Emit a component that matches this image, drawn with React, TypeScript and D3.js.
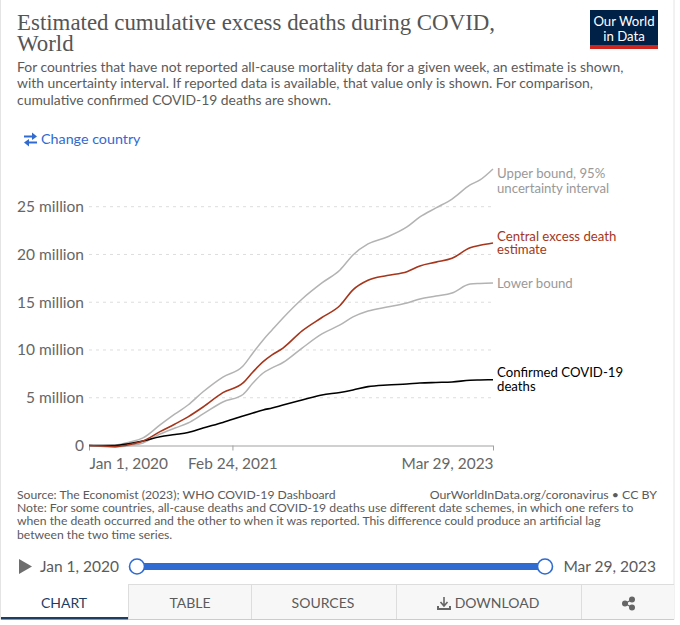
import React, { useRef, useEffect } from 'react';
import * as d3 from 'd3';

const dates = [
  '2020-01-01', '2020-02-11', '2020-03-17', '2020-04-30', '2020-06-07', '2020-07-27', '2020-09-09',
  '2020-10-17', '2020-11-30', '2021-01-27', '2021-03-27', '2021-04-25', '2021-05-25', '2021-06-20',
  '2021-07-22', '2021-09-16', '2021-11-13', '2022-01-05', '2022-02-12', '2022-03-28', '2022-05-23',
  '2022-07-20', '2022-08-27', '2022-10-13', '2022-11-29', '2023-01-21', '2023-02-19', '2023-03-29',
];
// all values in millions
const upperBound = [0, 0, 0.05, 0.37, 0.79, 2.15, 3.3, 4.24, 5.63, 7.17, 8.32, 9.69, 11.05, 12.09, 13.35, 15.34, 17.02, 18.38, 19.95, 21.1, 21.83, 22.88, 23.93, 24.87, 25.8, 27.28, 27.8, 28.95];
const centralEstimate = [0, -0.05, -0.12, 0.1, 0.47, 1.45, 2.25, 3.0, 4.03, 5.53, 6.55, 7.7, 8.78, 9.48, 10.2, 12.0, 13.4, 14.66, 16.3, 17.3, 17.8, 18.2, 18.8, 19.2, 19.6, 20.7, 20.96, 21.2];
const lowerBound = [0, -0.1, -0.16, 0, 0.26, 1.2, 1.83, 2.36, 3.3, 4.55, 5.34, 6.54, 7.59, 8.12, 8.69, 10.2, 11.68, 12.62, 13.46, 14.08, 14.5, 14.92, 15.34, 15.65, 15.97, 16.9, 16.96, 17.0];
const confirmedDeaths = [0, 0, 0, 0.21, 0.47, 0.92, 1.15, 1.36, 1.83, 2.41, 3.09, 3.4, 3.72, 3.93, 4.24, 4.76, 5.29, 5.55, 5.81, 6.16, 6.34, 6.44, 6.54, 6.6, 6.65, 6.83, 6.86, 6.89];

const yTicks = [0, 5, 10, 15, 20, 25];
const xTickDates = ['2020-01-01', '2021-02-24', '2023-03-29'];
const xTickLabels = ['Jan 1, 2020', 'Feb 24, 2021', 'Mar 29, 2023'];

const subtitleLines = [
  'For countries that have not reported all-cause mortality data for a given week, an estimate is shown,',
  'with uncertainty interval. If reported data is available, that value only is shown. For comparison,',
  'cumulative confirmed COVID-19 deaths are shown.',
];
const noteLines = [
  'Note: For some countries, all-cause deaths and COVID-19 deaths use different date schemes, in which one refers to',
  'when the death occurred and the other to when it was reported. This difference could produce an artificial lag',
  'between the two time series.',
];

const SANS = 'Lato, sans-serif';
const GREY_TEXT = '#5b5b5b';
const BLUE = '#2f6bd0';
const parseDate = d3.utcParse('%Y-%m-%d');

const x = d3.scaleUtc().domain([parseDate(dates[0])!, parseDate(dates[dates.length - 1])!]).range([89, 493]);
const y = d3.scaleLinear().domain([0, 25]).range([445.5, 206.7]);

const line = d3.line<number>()
  .x((_, i) => x(parseDate(dates[i])!))
  .y(d => y(d))
  .curve(d3.curveMonotoneX);

const tabs = [
  { label: 'TABLE', cx: 190 },
  { label: 'SOURCES', cx: 323 },
  { label: 'DOWNLOAD', cx: 497 },
];

const App: React.FC = () => {
  const yAxisRef = useRef<SVGGElement>(null);
  const xAxisRef = useRef<SVGGElement>(null);

  useEffect(() => {
    if (!yAxisRef.current || !xAxisRef.current) return;

    const yAxis = d3.axisLeft(y)
      .tickValues(yTicks)
      .tickSize(0)
      .tickPadding(5)
      .tickFormat(d => (+d === 0 ? '0' : `${d} million`));
    const yg = d3.select(yAxisRef.current).attr('transform', 'translate(89,0)').call(yAxis);
    yg.select('.domain').remove();
    yg.selectAll('text').attr('font-family', SANS).attr('font-size', 15.5).attr('fill', '#666');
    yg.selectAll('line').remove();

    const xAxis = d3.axisBottom(x)
      .tickValues(xTickDates.map(d => parseDate(d)!))
      .tickSize(5)
      .tickPadding(8)
      .tickFormat((_, i) => xTickLabels[i]);
    const xg = d3.select(xAxisRef.current).attr('transform', 'translate(0,445.5)').call(xAxis);
    xg.select('.domain').attr('stroke', '#a1a1a1').attr('d', 'M89,0.5H493');
    xg.selectAll('line').attr('stroke', '#a1a1a1');
    xg.selectAll('text')
      .attr('font-family', SANS)
      .attr('font-size', 15.4)
      .attr('fill', '#666')
      .attr('text-anchor', (_, i) => (i === 0 ? 'start' : i === 2 ? 'end' : 'middle'));
  }, []);

  return (
    <svg width={680} height={625} style={{ position: 'absolute', left: 0, top: 0 }} fontFamily={SANS}>
      <rect width={680} height={625} fill="#fff" />
      {/* card */}
      <rect x={0.5} y={-2} width={673.5} height={621} fill="#fff" stroke="#e4e4e4" />

      {/* title */}
      <g fontFamily="'Liberation Serif', serif" fontSize={22.9} fill="#555">
        <text x={17} y={30}>Estimated cumulative excess deaths during COVID,</text>
        <text x={17} y={51}>World</text>
      </g>
      <g fontSize={13.9} fill={GREY_TEXT}>
        {subtitleLines.map((t, i) => (
          <text key={i} x={17} y={71.5 + i * 16.7}>{t}</text>
        ))}
      </g>

      {/* logo */}
      <rect x={590} y={10} width={68} height={35} fill="#002147" />
      <rect x={590} y={45} width={68} height={4} fill="#ce261e" />
      <g fill="#fff" fontSize={13.2} textAnchor="middle">
        <text x={624} y={26}>Our World</text>
        <text x={624} y={41}>in Data</text>
      </g>

      {/* change country */}
      <g stroke={BLUE} strokeWidth={2} fill={BLUE}>
        <path d="M24,136.5H35" fill="none" />
        <path d="M32,132.5L37,136.5L32,140Z" stroke="none" />
        <path d="M26,142.5H37" fill="none" />
        <path d="M29,139L24,142.5L29,146.5Z" stroke="none" />
      </g>
      <text x={41} y={144} fontSize={14.3} fill={BLUE}>Change country</text>

      {/* grid */}
      {yTicks.filter(t => t > 0).map(t => (
        <line key={t} x1={89} x2={493} y1={y(t)} y2={y(t)} stroke="#ddd" strokeDasharray="3 4" />
      ))}
      <g ref={yAxisRef} />
      <g ref={xAxisRef} />

      {/* series */}
      <g fill="none" strokeLinejoin="round">
        <path d={line(upperBound)!} stroke="#b3b3b3" strokeWidth={1.5} />
        <path d={line(lowerBound)!} stroke="#b3b3b3" strokeWidth={1.5} />
        <path d={line(confirmedDeaths)!} stroke="#000" strokeWidth={1.6} />
        <path d={line(centralEstimate)!} stroke="#a5361c" strokeWidth={1.6} />
      </g>

      {/* labels at line ends */}
      <g fontSize={13.2}>
        <g fill="#999">
          <text x={497} y={178}>Upper bound, 95%</text>
          <text x={497} y={193}>uncertainty interval</text>
          <text x={497} y={287.5}>Lower bound</text>
        </g>
        <g fill="#a5361c">
          <text x={497} y={241}>Central excess death</text>
          <text x={497} y={254}>estimate</text>
        </g>
        <g fill="#000">
          <text x={497} y={377}>Confirmed COVID-19</text>
          <text x={497} y={391}>deaths</text>
        </g>
      </g>

      {/* footer */}
      <g fontSize={12.2} fill={GREY_TEXT}>
        <text x={17} y={498.5}>Source: The Economist (2023); WHO COVID-19 Dashboard</text>
        <text x={657} y={498.5} textAnchor="end" fontSize={12.35}>OurWorldInData.org/coronavirus • CC BY</text>
        {noteLines.map((t, i) => (
          <text key={i} x={17} y={512 + i * 13.4}>{t}</text>
        ))}
      </g>

      {/* timeline */}
      <path d="M19,559L32,566.5L19,574Z" fill="#6e6e6e" />
      <text x={40} y={572} fontSize={15.5} fill={GREY_TEXT}>Jan 1, 2020</text>
      <text x={656} y={572} fontSize={15.5} fill={GREY_TEXT} textAnchor="end">Mar 29, 2023</text>
      <rect x={137} y={563} width={408} height={7} fill={BLUE} />
      <circle cx={137} cy={566.5} r={7.5} fill="#fff" stroke={BLUE} strokeWidth={1.6} />
      <circle cx={545} cy={566.5} r={7.5} fill="#fff" stroke={BLUE} strokeWidth={1.6} />

      {/* tabs */}
      <rect x={128} y={584} width={546} height={35} fill="#f7f7f7" />
      <path d="M128,584.5H674M128.5,584V619M251.5,584V619M396.5,584V619M581.5,584V619" stroke="#ddd" fill="none" />
      <rect x={1} y={617} width={127} height={2.5} fill="#1d3d63" />
      <rect x={128} y={619} width={546} height={1} fill="#ccc" />
      <text x={64} y={608} fontSize={14} textAnchor="middle" fill="#1d3d63">CHART</text>
      {tabs.map(t => (
        <text key={t.label} x={t.cx} y={608} fontSize={14} textAnchor="middle" fill={GREY_TEXT}>
          {t.label}
        </text>
      ))}
      {/* download icon */}
      <g stroke="#666" fill="none" strokeWidth={1.6}>
        <path d="M444,597V605M440.5,602L444,606L447.5,602" />
        <path d="M438,606V609H450V606" strokeWidth={2} />
      </g>
      {/* share icon */}
      <g fill="#666" stroke="#666" strokeWidth={1.2}>
        <path d="M632,599.5L625,603.5L632,607.5" fill="none" />
        <circle cx={632} cy={599.5} r={2.4} />
        <circle cx={625} cy={603.5} r={2.4} />
        <circle cx={632} cy={607.5} r={2.4} />
      </g>
    </svg>
  );
};

export default App;
